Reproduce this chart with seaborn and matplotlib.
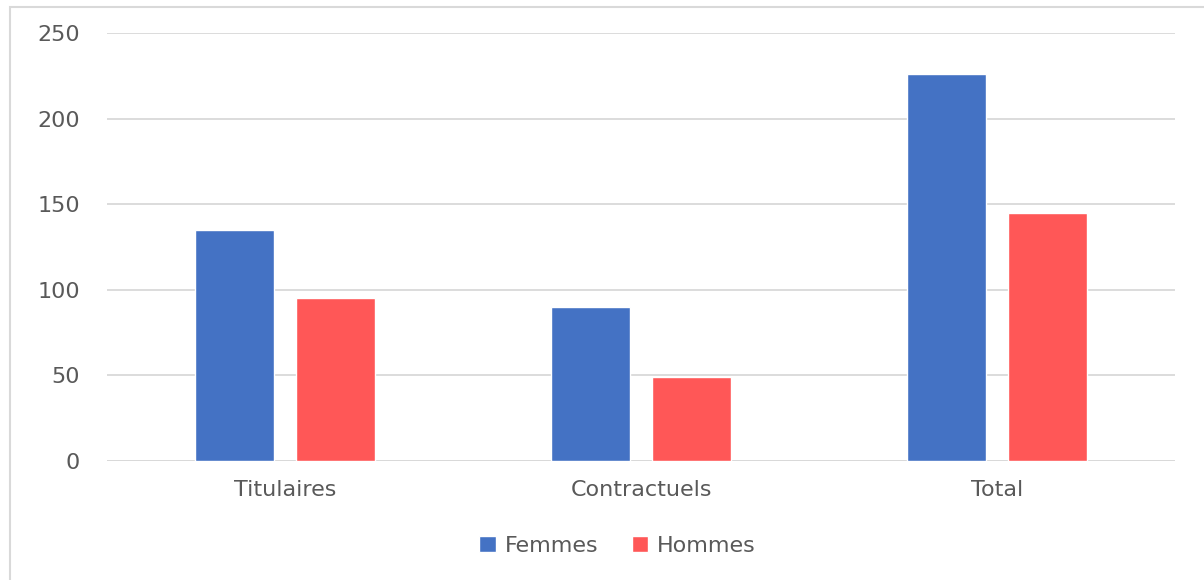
import matplotlib
matplotlib.use("Agg")
import matplotlib.pyplot as plt
from matplotlib.patches import Rectangle
import pandas as pd
import seaborn as sns

categories = ["Titulaires", "Contractuels", "Total"]
femmes = [135, 90, 226]
hommes = [95, 49, 145]
series_names = ["Femmes", "Hommes"]
y_ticks = [0, 50, 100, 150, 200, 250]

df = pd.DataFrame({
    "Catégorie": categories * 2,
    "Effectif": femmes + hommes,
    "Sexe": [series_names[0]] * len(categories) + [series_names[1]] * len(categories),
})

sns.set_theme(style="white")
plt.rcParams["font.family"] = ["DejaVu Sans"]

fig = plt.figure(figsize=(12.04, 5.8), dpi=100)
ax = fig.add_axes([107 / 1204, 1 - 461 / 580, (1175 - 107) / 1204, (461 - 33) / 580])

sns.barplot(
    data=df, x="Catégorie", y="Effectif", hue="Sexe",
    palette={"Femmes": "#4472C4", "Hommes": "#FF5757"},
    width=0.57, gap=0.22, saturation=1, ax=ax, zorder=3,
)

ax.set_ylim(0, 250)
ax.set_xlim(-0.5, 2.5)
ax.set_yticks(y_ticks)
ax.set_yticklabels([str(t) for t in y_ticks])
ax.yaxis.grid(True, color="#d9d9d9", linewidth=1.3, zorder=0)
ax.set_axisbelow(True)
for s in ax.spines.values():
    s.set_visible(False)
ax.set_xlabel("")
ax.set_ylabel("")
ax.tick_params(axis="y", length=0, pad=19.5, labelsize=16, labelcolor="#595959")
ax.tick_params(axis="x", length=0, pad=14, labelsize=16, labelcolor="#595959")

# baseline
ax.axhline(0, color="#d9d9d9", linewidth=1.3, zorder=1)

ax.legend_.remove()
handles, labels = ax.get_legend_handles_labels()
fig.legend(
    handles, labels, loc="center", bbox_to_anchor=(0.513, 1 - 546 / 580),
    ncol=2, frameon=False, fontsize=16, labelcolor="#595959",
    handlelength=0.75, handleheight=0.75, handletextpad=0.4, columnspacing=1.5,
)

# chart area border
fig.patches.append(Rectangle((10 / 1204, -0.05), 1.1, 1 - 7 / 580 + 0.05,
                             transform=fig.transFigure, fill=False,
                             edgecolor="#d9d9d9", linewidth=1.5))

fig.savefig("out.png", dpi=100)
